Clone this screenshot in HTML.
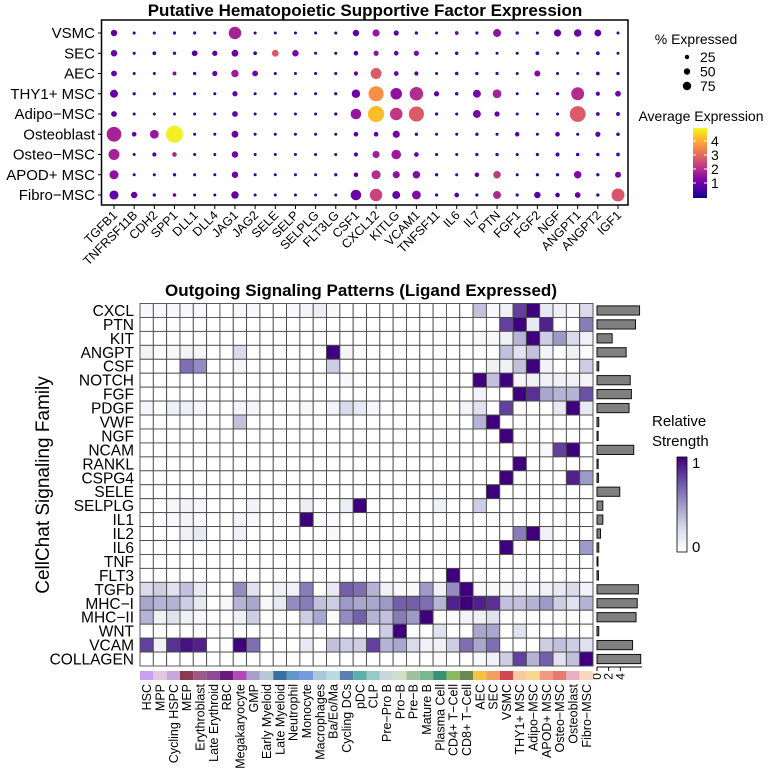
<!DOCTYPE html>
<html><head><meta charset="utf-8">
<style>
html,body{margin:0;padding:0;background:#fff;}
svg{display:block;font-family:"Liberation Sans",Arial,sans-serif;}
</style></head>
<body>
<svg id="fig" width="780" height="772" viewBox="0 0 780 772" xmlns="http://www.w3.org/2000/svg">
<defs>
<linearGradient id="plasmaGrad" x1="0" y1="1" x2="0" y2="0">
<stop offset="0" stop-color="#0d0887"/><stop offset="0.1" stop-color="#41049d"/><stop offset="0.2" stop-color="#6a00a8"/><stop offset="0.3" stop-color="#8f0da4"/><stop offset="0.4" stop-color="#b12a90"/><stop offset="0.5" stop-color="#cc4778"/><stop offset="0.6" stop-color="#e16462"/><stop offset="0.7" stop-color="#f2844b"/><stop offset="0.8" stop-color="#fca636"/><stop offset="0.9" stop-color="#fcce25"/><stop offset="1" stop-color="#f0f921"/>
</linearGradient>
<linearGradient id="purpGrad" x1="0" y1="1" x2="0" y2="0">
<stop offset="0" stop-color="#ffffff"/><stop offset="0.25" stop-color="#dadaeb"/><stop offset="0.5" stop-color="#9e9ac8"/><stop offset="0.75" stop-color="#6a51a3"/><stop offset="1" stop-color="#3f007d"/>
</linearGradient>
</defs>
<text x="365" y="16" text-anchor="middle" font-size="17" font-weight="bold">Putative Hematopoietic Supportive Factor Expression</text>
<rect x="101.5" y="20" width="526.5" height="185" fill="none" stroke="#000" stroke-width="1.5"/>
<g id="dots"></g>

<text x="696" y="44" text-anchor="middle" font-size="14">% Expressed</text>
<g id="sizeLegend"></g>
<text x="701" y="121" text-anchor="middle" font-size="14">Average Expression</text>
<rect x="693" y="128" width="14" height="70" fill="url(#plasmaGrad)"/>
<g id="colorTicks"></g>

<text x="361" y="296" text-anchor="middle" font-size="17" font-weight="bold">Outgoing Signaling Patterns (Ligand Expressed)</text>
<text transform="translate(49,485) rotate(-90)" text-anchor="middle" font-size="19">CellChat Signaling Family</text>
<g id="heat"></g>
<g id="bars"></g>
<text x="652" y="426" font-size="15">Relative</text>
<text x="652" y="446" font-size="15">Strength</text>
<rect x="677" y="457" width="10" height="95" fill="url(#purpGrad)" stroke="#000" stroke-width="0.8"/>
<text x="692" y="468" font-size="15">1</text>
<text x="692" y="552" font-size="15">0</text>
</svg>
<script>
const cellTypes = ["VSMC","SEC","AEC","THY1+ MSC","Adipo\u2212MSC","Osteoblast","Osteo\u2212MSC","APOD+ MSC","Fibro\u2212MSC"];
const genes = ["TGFB1","TNFRSF11B","CDH2","SPP1","DLL1","DLL4","JAG1","JAG2","SELE","SELP","SELPLG","FLT3LG","CSF1","CXCL12","KITLG","VCAM1","TNFSF11","IL6","IL7","PTN","FGF1","FGF2","NGF","ANGPT1","ANGPT2","IGF1"];
const pctExpressed = [
[45,10,10,12,12,10,80,10,8,8,8,10,45,50,35,15,8,20,12,55,15,10,50,52,48,8],
[45,10,20,15,40,35,48,20,48,45,8,10,30,35,30,35,8,18,14,8,8,20,8,10,20,8],
[40,8,8,22,14,35,52,40,10,8,10,10,25,72,30,25,8,18,14,12,8,42,8,8,20,14],
[55,12,10,10,10,8,35,8,8,8,8,12,58,92,75,85,35,18,55,60,8,8,14,82,25,40],
[40,10,8,8,8,8,40,8,8,8,8,12,70,97,80,92,14,10,55,35,8,8,8,95,20,22],
[90,30,60,100,8,8,48,8,8,8,8,8,30,30,50,15,8,8,15,10,28,8,30,10,35,18],
[72,8,25,30,8,8,45,8,8,8,8,8,25,50,65,30,10,8,15,15,10,12,25,18,18,20],
[62,8,10,15,10,8,45,8,8,8,8,12,28,62,50,52,14,10,28,52,10,12,14,52,14,42],
[62,45,15,18,8,8,52,8,8,8,8,10,70,80,55,60,12,30,12,55,12,45,30,40,15,82]];
const avgExpression = [
[0.8,0.3,0.3,0.5,0.5,0.3,1.8,0.3,0.2,0.2,0.2,0.3,0.8,1.6,0.9,0.6,0.3,0.9,0.5,1.5,0.6,0.3,0.9,1.0,0.9,0.4],
[0.9,0.4,0.6,0.6,0.7,0.7,1.0,0.5,2.8,1.2,0.3,0.4,0.7,1.5,0.9,1.2,0.3,0.6,0.5,0.3,0.3,0.6,0.3,0.4,0.6,0.4],
[0.9,0.3,0.3,1.4,0.5,0.9,1.7,1.1,0.3,0.3,0.3,0.4,0.7,2.8,0.9,0.8,0.3,0.6,0.5,0.5,0.3,1.3,0.3,0.4,0.6,0.5],
[0.9,0.4,0.3,0.3,0.3,0.3,0.9,0.3,0.3,0.3,0.3,0.4,1.0,3.6,1.5,2.0,0.8,0.6,1.2,1.8,0.3,0.3,0.5,2.0,0.7,1.1],
[0.9,0.4,0.3,0.3,0.3,0.3,0.9,0.3,0.3,0.3,0.3,0.4,1.6,4.2,2.2,2.8,0.5,0.4,1.2,0.9,0.3,0.3,0.3,2.8,0.6,0.7],
[1.8,0.9,1.6,4.8,0.3,0.3,1.0,0.3,0.3,0.3,0.3,0.3,0.8,0.9,1.1,0.5,0.3,0.3,0.5,0.4,0.8,0.3,0.8,0.3,0.9,0.6],
[1.8,0.3,0.7,1.9,0.3,0.3,1.1,0.3,0.3,0.3,0.3,0.3,0.7,1.7,1.7,0.9,0.3,0.3,0.5,0.5,0.4,0.4,0.7,0.6,0.6,0.6],
[1.5,0.3,0.3,0.5,0.3,0.3,1.0,0.3,0.3,0.3,0.3,0.4,0.7,2.0,1.5,1.3,0.4,0.4,0.8,2.2,0.3,0.4,0.4,1.3,0.5,1.2],
[0.9,0.9,0.5,0.9,0.3,0.3,0.9,0.3,0.3,0.3,0.3,0.4,1.0,2.4,0.9,1.3,0.4,0.7,0.4,1.9,0.4,0.7,0.6,0.9,0.5,2.7]];
const sizeLegendValues = [25,50,75];
const colorTickValues = [1,2,3,4];

const pathways = ["CXCL","PTN","KIT","ANGPT","CSF","NOTCH","FGF","PDGF","VWF","NGF","NCAM","RANKL","CSPG4","SELE","SELPLG","IL1","IL2","IL6","TNF","FLT3","TGFb","MHC\u2212I","MHC\u2212II","WNT","VCAM","COLLAGEN"];
const senders = ["HSC","MPP","Cycling HSPC","MEP","Erythroblast","Late Erythroid","RBC","Megakaryocyte","GMP","Early Myeloid","Late Myeloid","Neutrophil","Monocyte","Macrophages","Ba/Eo/Ma","Cycling DCs","pDC","CLP","Pre\u2212Pro B","Pro\u2212B","Pre\u2212B","Mature B","Plasma Cell","CD4+ T\u2212Cell","CD8+ T\u2212Cell","AEC","SEC","VSMC","THY1+ MSC","Adipo\u2212MSC","APOD+ MSC","Osteo\u2212MSC","Osteoblast","Fibro\u2212MSC"];
const senderColors = ["#c9a0f0","#e0c8e0","#c8a8dc","#8b3a50","#9a5a8a","#8f4a96","#6a1a78","#b04ab8","#a8a0cc","#b8c8d8","#3a70a0","#6098c8","#7898e0","#a8c8d8","#b8dce0","#5880b0","#5ab0a8","#98c8c8","#c8d8d8","#d0e0c8","#a0c0a0","#78b890","#3a9070","#88b860","#6a8850","#f8c040","#f0a060","#d04850","#f8c8a0","#f8d890","#f09880","#e87870","#e8b0c0","#f8d8c0"];
const strength = [
[.05,.05,.05,.05,.05,0,0,.05,.05,0,0,.05,.07,.12,.04,0,0,0,0,0,0,0,0,0,0,.35,.05,.1,.8,1,.15,.1,.05,.25],
[0,0,0,0,0,0,0,0,0,0,0,0,0,0,0,0,0,0,0,0,0,0,0,0,0,0,0,.8,1,.15,.9,0,0,.6],
[0,0,0,0,0,0,0,0,0,0,0,0,0,0,0,0,0,0,0,0,0,0,0,0,0,.05,.05,.1,.4,1,.3,.5,.25,.1],
[.08,0,.05,.08,.06,0,0,.25,0,0,0,0,0,0,1,.06,0,0,0,0,0,0,0,0,0,0,0,.35,.2,.35,.08,0,.1,.03],
[0,0,0,.65,.55,0,0,.06,0,0,0,0,0,0,.3,0,0,0,0,0,0,0,0,0,0,0,.1,.1,.35,1,.08,0,0,.3],
[0,0,0,0,0,0,0,0,0,0,0,0,0,0,0,.04,0,0,0,0,0,0,0,0,0,1,.35,1,.08,.1,.1,.1,.1,.07],
[0,0,0,0,0,0,0,0,0,0,0,0,0,0,0,0,0,0,0,0,0,0,0,0,0,.08,0,0,1,.85,.45,.4,.4,.75],
[.06,0,.1,.1,.06,0,0,.08,.06,0,0,0,.05,0,.07,.25,.15,.05,0,0,0,0,0,0,.07,.2,0,.8,0,0,0,.15,1,.15],
[0,0,0,0,0,0,0,.35,0,0,0,0,0,0,0,0,0,0,0,0,0,0,0,0,0,.4,1,0,0,0,0,0,0,0],
[0,0,0,0,0,0,0,0,0,0,0,0,0,0,0,0,0,0,0,0,0,0,0,0,0,0,0,1,0,0,0,0,0,0],
[0,0,0,0,0,0,0,0,0,0,0,0,0,0,0,0,0,0,0,0,0,0,0,0,0,0,0,0,0,0,.05,.8,1,0],
[0,0,0,0,0,0,0,0,0,0,0,0,0,0,0,0,0,0,0,0,0,0,0,0,0,0,0,0,1,0,0,0,0,0],
[0,0,0,0,0,0,0,0,0,0,0,0,0,0,0,0,0,0,0,0,0,0,0,0,0,0,0,1,0,0,0,0,.9,.5],
[0,0,0,0,0,0,0,0,0,0,0,0,0,0,0,0,0,0,0,0,0,0,0,0,0,0,1,0,0,0,0,0,0,0],
[0,0,.05,.08,.06,0,0,0,.08,0,0,0,.12,0,0,.12,1,0,0,0,0,0,.1,0,0,.3,0,0,0,0,0,0,0,0],
[0,0,.04,.08,.04,0,0,.08,.05,0,0,0,1,0,.03,0,0,0,0,0,0,0,0,0,0,0,.02,.02,0,0,0,0,0,0],
[0,0,0,.1,.15,0,0,.1,0,0,0,0,0,0,.04,0,0,0,0,0,0,0,0,0,0,0,0,0,.6,1,.1,0,0,0],
[0,0,0,0,0,0,0,0,0,0,0,0,0,0,0,0,0,0,0,0,0,0,0,0,0,0,0,1,0,0,0,0,0,.5],
[0,0,0,0,0,0,0,0,0,0,0,0,0,0,0,0,0,0,0,0,0,0,0,0,0,0,0,0,0,0,0,0,0,0],
[0,0,0,0,0,0,0,0,0,0,0,0,0,0,0,0,0,0,0,0,0,0,0,1,0,0,0,0,0,0,0,0,0,0],
[.25,.3,.2,.35,.15,0,0,.55,.2,0,.1,.1,.6,0,.15,.7,.65,.4,.1,.05,.05,.5,.1,.55,1,.05,.05,.05,.07,.05,.1,.15,.25,.08],
[.45,.4,.4,.3,.15,0,.05,.4,.45,.05,.15,.55,.6,.35,.3,.5,.45,.45,.5,.7,.7,.65,.4,.9,1,.9,.85,.35,.35,.4,.5,.3,.2,.4],
[.4,.1,.2,.1,.05,0,0,.1,.3,0,0,0,.3,.45,.03,.55,.7,.4,.35,.6,.5,1,0,.03,.08,.1,.2,0,.02,.02,.02,.02,.02,.02],
[0,0,0,0,0,0,0,0,0,0,0,0,0,0,0,0,0,0,.3,1,0,0,.2,0,0,.45,.45,0,.2,0,0,0,0,0],
[.8,.1,.85,.95,.9,0,0,1,.65,0,0,0,.15,0,.35,.3,.3,.8,.4,.45,.25,.1,.1,.3,.65,.45,.65,0,0,0,.3,.35,.3,.2],
[0,0,0,0,0,0,0,.02,0,0,0,0,0,0,0,0,0,0,0,0,0,0,.02,0,0,.05,.1,.3,.8,.4,.7,.2,.35,1]];
const totalStrength = [7.3,6.6,2.6,5.0,0.3,5.7,5.9,5.5,0.3,0.2,6.3,0.2,0.25,3.9,1.0,1.0,0.6,0.3,0.1,0.25,7.1,6.9,6.7,0.3,6.1,7.5];
const barTicks = [0,2,4];

const NS = "http://www.w3.org/2000/svg";
function mk(tag, attrs, parent){const e=document.createElementNS(NS,tag);for(const k in attrs)e.setAttribute(k,attrs[k]);parent.appendChild(e);return e;}
function hex(c){return [parseInt(c.slice(1,3),16),parseInt(c.slice(3,5),16),parseInt(c.slice(5,7),16)];}
function interp(stops,t){t=Math.max(0,Math.min(1,t));const n=stops.length-1;const i=Math.min(n-1,Math.floor(t*n));const f=t*n-i;const a=hex(stops[i]),b=hex(stops[i+1]);return "rgb("+a.map((v,k)=>Math.round(v+(b[k]-v)*f)).join(",")+")";}
const plasma=["#0d0887","#41049d","#6a00a8","#8f0da4","#b12a90","#cc4778","#e16462","#f2844b","#fca636","#fcce25","#f0f921"];
const purples=["#ffffff","#dadaeb","#9e9ac8","#6a51a3","#3f007d"];

const dX = i => 114 + i*20.16;
const dY = j => 33 + j*20.25;
const rScale = p => 1.4 + 7.1*Math.pow(p/100,1.7);
const cScale = v => interp(plasma, v/4.9);
const dots = document.getElementById("dots");
const fig = document.getElementById("fig");
cellTypes.forEach((ct,j)=>{
  const t = mk("text",{x:95,y:dY(j)+5,"text-anchor":"end","font-size":15},fig);
  t.textContent = ct;
  
  
  genes.forEach((g,i)=>{
    const c = mk("circle",{cx:dX(i),cy:dY(j),r:rScale(pctExpressed[j][i]).toFixed(2),fill:cScale(avgExpression[j][i])},dots);
    
    
  });
});
genes.forEach((g,i)=>{
  mk("line",{x1:dX(i),x2:dX(i),y1:205,y2:209,stroke:"#000","stroke-width":1},fig);
  const t = mk("text",{transform:"translate("+(dX(i)+4)+",216) rotate(-45)","text-anchor":"end","font-size":12.5},fig);
  t.textContent = g;
  
  
});
cellTypes.forEach((ct,j)=>{mk("line",{x1:98,x2:101.5,y1:dY(j),y2:dY(j),stroke:"#000","stroke-width":1},fig);});
const sl = document.getElementById("sizeLegend");
sizeLegendValues.forEach((p,k)=>{
  const y = 57 + k*14.5;
  const c = mk("circle",{cx:687,cy:y,r:(1.2+0.04*p).toFixed(2),fill:"#000"},sl);
  
  
  const t = mk("text",{x:700,y:y+5,"font-size":14},sl);
  t.textContent = p;
  
  
});
const ctk = document.getElementById("colorTicks");
colorTickValues.forEach(v=>{
  const y = 183 - (v-1)*14;
  mk("line",{x1:693,x2:696,y1:y,y2:y,stroke:"#fff","stroke-width":1},ctk);
  mk("line",{x1:704,x2:707,y1:y,y2:y,stroke:"#fff","stroke-width":1},ctk);
  const t = mk("text",{x:711,y:y+5,"font-size":14},ctk);
  t.textContent = v;
  
  
});

const hx0 = 140, cw = 453/34, hy0 = 303.5, rh = 362.5/26;
const hX = i => hx0 + i*cw;
const hY = j => hy0 + j*rh;
const hC = v => interp(purples, v);
const heat = document.getElementById("heat");
pathways.forEach((pw,j)=>{
  const t = mk("text",{x:134,y:hY(j)+rh/2+5.5,"text-anchor":"end","font-size":15.5},fig);
  t.textContent = pw;
  
  
  senders.forEach((s,i)=>{
    const r = mk("rect",{x:hX(i).toFixed(2),y:hY(j).toFixed(2),width:cw.toFixed(2),height:rh.toFixed(2),fill:hC(strength[j][i]),stroke:"#4a4a4a","stroke-width":0.9},heat);
    
    
  });
});
senders.forEach((s,i)=>{
  const r = mk("rect",{x:hX(i).toFixed(2),y:671,width:cw.toFixed(2),height:9,fill:senderColors[i]},fig);
  
  
  const t = mk("text",{transform:"translate("+(hX(i)+cw/2+4.5).toFixed(2)+",684) rotate(-90)","text-anchor":"end","font-size":12.5},fig);
  t.textContent = s;
  
  
});
const bx0 = 597, bScale = 5.83;
const bars = document.getElementById("bars");
totalStrength.forEach((v,j)=>{
  const r = mk("rect",{x:bx0,y:(hY(j)+rh/2-4.6).toFixed(2),width:Math.max(1,v*bScale).toFixed(2),height:9.2,fill:"#808080",stroke:"#111","stroke-width":1},bars);
  
  
});
mk("line",{x1:bx0,x2:642,y1:667,y2:667,stroke:"#000","stroke-width":1},bars);
barTicks.forEach(v=>{
  const x = bx0 + v*bScale;
  mk("line",{x1:x,x2:x,y1:667,y2:671,stroke:"#000","stroke-width":1},bars);
  const t = mk("text",{transform:"translate("+(x+4)+",673) rotate(-90)","text-anchor":"end","font-size":12},bars);
  t.textContent = v;
  
  
});
</script>
</body></html>
